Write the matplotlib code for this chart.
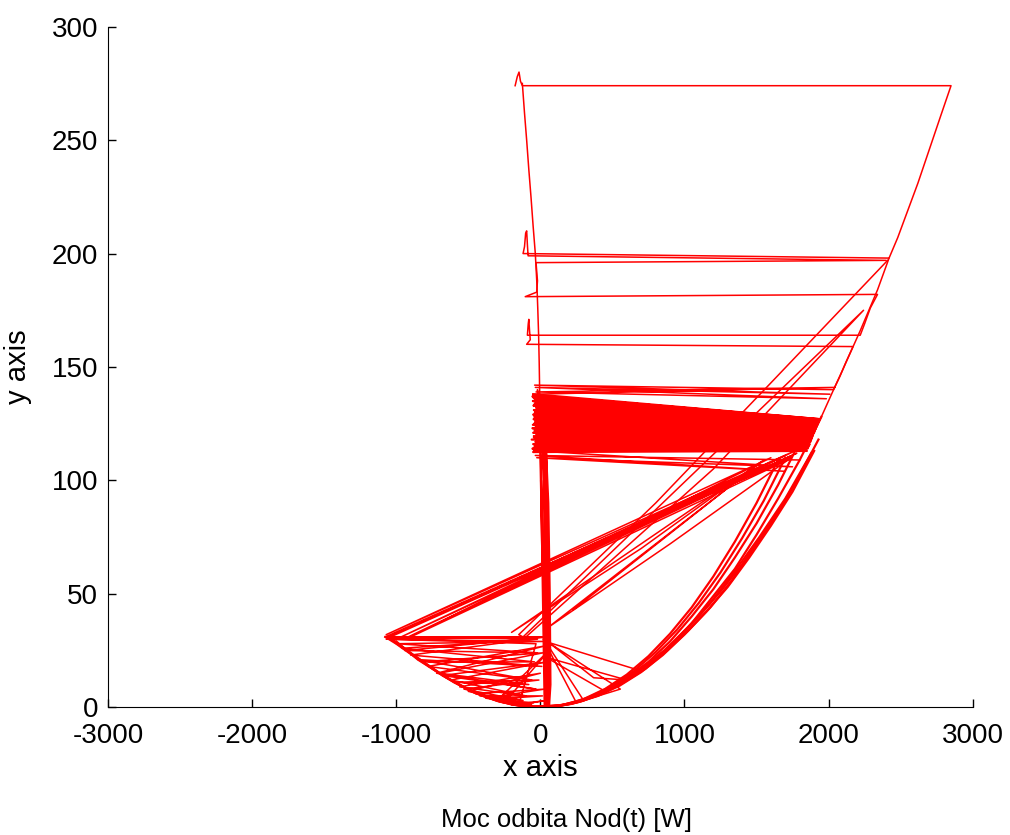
import numpy as np
import matplotlib.pyplot as plt

plt.rcParams['font.family'] = ['Liberation Sans', 'DejaVu Sans']
plt.rcParams['axes.unicode_minus'] = False

# trajectory pieces, (x, y) pairs
spine = np.array([
    (-125, 275), (-110, 262), (-95, 250), (-80, 237), (-65, 225), (-50, 212),
    (-35, 200), (-25, 188), (-18, 176), (-12, 164), (-8, 152), (-5, 140),
    (0, 125), (5, 110), (10, 95), (15, 80), (20, 62), (25, 45), (30, 28),
    (35, 12), (40, 0), (45, 30), (35, 80), (20, 112), (-20, 140), (-10, 128),
    (0, 112), (5, 100), (15, 80), (25, 60), (35, 40), (45, 20), (55, 0),
    (50, 40), (30, 80), (10, 130), (20, 110), (30, 80), (45, 40), (60, 5),
    (65, 30), (50, 70), (30, 112), (40, 90), (55, 50), (65, 10),
])

spine_low = np.array([
    (0, 112), (10, 80), (20, 40), (30, 0), (45, 40), (50, 80), (40, 112),
    (55, 90), (65, 50), (70, 10), (60, 0), (45, 60), (25, 110), (35, 70),
    (50, 20), (5, 100), (15, 60),
])

top = np.array([
    (-175, 274), (-160, 278), (-148, 280), (-138, 276), (-125, 274),
    (2850, 274), (2780, 261), (2700, 246), (2620, 231), (2550, 219),
    (2480, 207), (2420, 198), (-120, 200), (-110, 203), (-102, 209),
    (-95, 210), (-90, 204), (-85, 199), (-60, 199), (2400, 197),
    (-30, 196), (-20, 188), (-25, 183), (-105, 181), (2340, 182),
    (2290, 176), (2250, 169), (2220, 164), (-90, 164), (-84, 169),
    (-80, 171), (-75, 166), (-70, 162), (-95, 160), (2170, 159),
    (2120, 152), (2080, 146), (2035, 140), (-40, 142), (2010, 138),
    (-35, 141), (1985, 136), (-30, 139), (2045, 141), (-45, 138),
])

upper_right = np.array([
    (2420, 198), (2340, 184), (2220, 166), (2100, 149), (2035, 140),
    (1950, 128), (1900, 121),
])

band = np.array([
    (-50, 138), (1940, 127), (-45, 137.5), (1936, 126.5), (-55, 137),
    (1932, 126), (-40, 136), (1928, 125.5), (-52, 135), (1925, 125),
    (-35, 134), (1922, 124.5), (-48, 133), (1918, 124), (-30, 132),
    (1915, 123.5), (-45, 131), (1912, 123), (-38, 130), (1908, 122.5),
    (-50, 129), (1905, 122), (-42, 128), (1902, 121.5), (-47, 127),
    (1898, 121), (-36, 126), (1895, 120.5), (-44, 125), (1892, 120),
    (-33, 124), (1889, 119.5), (-55, 123), (1886, 119), (-40, 122),
    (1883, 118.5), (-50, 121), (1880, 118), (-30, 120), (1877, 117.5),
    (-45, 119), (1874, 117), (-60, 118), (1870, 116), (-35, 117),
    (1866, 115.5), (-50, 116), (1862, 115), (-40, 115), (1858, 114.5),
    (-55, 114), (1854, 114), (-45, 113), (1850, 113), (-50, 112.5),
    (1900, 121), (-48, 136.5), (1930, 125.8), (-42, 133.5), (1890, 119.8),
    (-38, 128.5), (1910, 122.8), (-52, 124.5), (1870, 117.2), (-44, 119.5),
])

below = np.array([
    (-30, 113), (1750, 106), (-25, 110), (1700, 104), (-35, 111), (1800, 109),
])

diag = np.array([
    (2410, 197), (1600, 143), (800, 90), (-150, 32), (-120, 31),
    (2243, 175), (1200, 105), (-100, 31),
])

diag2 = np.array([
    (1740, 110), (900, 72), (50, 35), (1550, 109), (700, 70), (-200, 33),
    (1528, 108), (229, 43),
])

fan = np.array([
    (-1076, 31), (1780, 112), (-1060, 31), (1740, 110), (-1040, 31),
    (1700, 111), (-1000, 30), (1650, 108), (-950, 30), (1800, 114),
    (-1070, 32), (1600, 110), (-900, 31), (1720, 109),
])

web = np.array([
    (-1076, 31), (30, 31), (-1070, 30), (20, 29), (-1000, 28), (-20, 24),
    (-940, 25), (40, 31), (-900, 23), (10, 18), (-850, 21), (-60, 12),
    (-780, 18), (30, 27), (-720, 15), (-30, 8), (-680, 14), (50, 20),
    (-620, 12), (-100, 5), (-560, 9), (0, 15), (-500, 7), (-140, 2),
    (-450, 6), (30, 8), (-380, 4), (-60, 1), (-300, 3), (60, 25),
    (-250, 2), (-10, 0), (-200, 1), (40, 3), (-150, 1), (-30, 28),
    (-1060, 30), (10, 31), (-1050, 31), (-20, 30), (-960, 26), (-40, 20),
    (-820, 20), (20, 24), (-700, 15), (-80, 10), (-600, 11), (-10, 12),
    (-530, 8), (-120, 3), (-420, 5), (15, 5), (-340, 3.5), (-50, 2),
])

center_right = np.array([
    (69, 28), (370, 13), (600, 12), (40, 22), (450, 7), (250, 2),
    (20, 30), (555, 8), (300, 3), (35, 29), (700, 16),
])

bowl1 = np.array([
    (1950, 128), (1800, 109), (1650, 92), (1500, 76), (1350, 61), (1200, 49),
    (1050, 37), (900, 27), (750, 19), (600, 12), (450, 7), (300, 3),
    (150, 1), (0, 0), (-150, 0.7), (-300, 2.8), (-450, 6.2), (-600, 11),
    (-750, 17), (-900, 23.5), (-1000, 28), (-1076, 31),
])

bowl2 = np.array([
    (1900, 113), (1750, 95), (1600, 80), (1450, 66), (1300, 53), (1150, 42),
    (1000, 32), (850, 23), (700, 15.5), (550, 9.5), (400, 5), (250, 2),
    (100, 0.3), (-100, 0.3), (-250, 2), (-400, 5), (-550, 9.5), (-700, 15),
    (-850, 21), (-1000, 29),
])

bowl3 = np.array([
    (1800, 117), (1650, 98), (1500, 81), (1350, 66), (1200, 52), (1050, 40),
    (900, 29), (750, 20), (600, 13), (450, 7.5), (300, 3.3), (150, 1),
    (-50, 0.2), (-200, 1.2), (-350, 4), (-500, 8), (-650, 13), (-800, 19.5),
    (-950, 26), (-1060, 31),
])

bowl4 = np.array([
    (1880, 112), (1700, 92), (1520, 75), (1350, 60), (1180, 46), (1020, 35),
    (860, 25), (700, 17), (540, 10), (380, 5), (220, 1.5), (60, 0),
])

bowl5 = np.array([
    (1930, 118), (1780, 100), (1630, 84), (1480, 70), (1330, 56), (1180, 44),
    (1030, 34), (880, 25), (730, 17), (580, 11), (430, 6), (280, 2.5),
    (130, 0.5), (-80, 0.4), (-280, 2.4), (-480, 7), (-680, 14), (-880, 23),
    (-1040, 30.5),
])

bowl6 = np.array([
    (1850, 108), (1700, 91), (1550, 77), (1400, 63), (1250, 51), (1100, 40),
    (950, 30), (800, 21.5), (650, 14.5), (500, 8.5), (350, 4.3), (200, 1.4),
    (50, 0.1),
])

bowl7 = np.array([
    (1650, 109), (1500, 90), (1350, 73), (1200, 57.6), (1050, 44), (900, 32.4),
    (750, 22.5), (600, 14.4), (450, 8.1), (300, 3.6), (150, 0.9), (0, 0),
])

bowl8 = np.array([
    (1700, 110), (1550, 91), (1400, 74.5), (1250, 59.4), (1100, 46),
    (950, 34.3), (800, 24.3), (650, 16), (500, 9.5), (350, 4.7), (200, 1.5),
    (50, 0.1),
])

thin = [spine, top, upper_right, below, diag, diag2, web, center_right, fan]
thick = [band, spine_low, bowl1, bowl2, bowl3, bowl4, bowl5, bowl6, bowl7,
         bowl8]

fig = plt.figure(figsize=(10.10, 8.35), dpi=100)
ax = fig.add_axes([0.107, 0.153, 0.856, 0.815])

for p in thin:
    ax.plot(p[:, 0], p[:, 1], color='#ff0000', lw=1.1)
for p in thick:
    ax.plot(p[:, 0], p[:, 1], color='#ff0000', lw=1.6)

ax.set_xlim(-3000, 3000)
ax.set_ylim(0, 300)
ax.set_xticks(np.arange(-3000, 3001, 1000))
ax.set_yticks(np.arange(0, 301, 50))
ax.spines['top'].set_visible(False)
ax.spines['right'].set_visible(False)
ax.tick_params(direction='in', length=6, width=1, labelsize=20)
ax.tick_params(axis='x', pad=11)
ax.tick_params(axis='y', pad=7)
ax.set_xlabel('x axis', fontsize=21, labelpad=4)
ax.set_ylabel('y axis', fontsize=21, labelpad=14)

fig.text(0.561, 1 - 820 / 835, 'Moc odbita Nod(t) [W]', fontsize=18.5,
         ha='center', va='center')

fig.savefig('out.png', dpi=100)
